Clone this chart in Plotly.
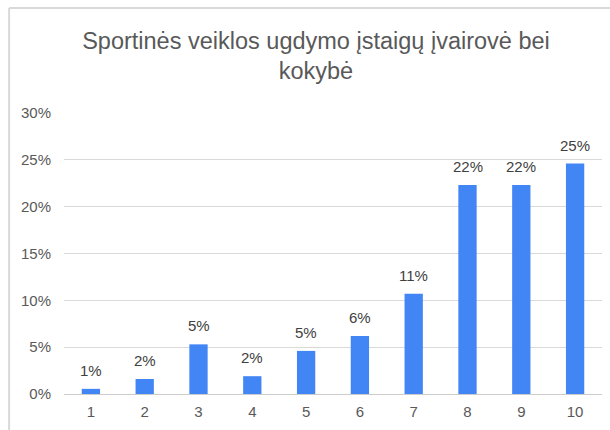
import plotly.graph_objects as go

categories = ["1", "2", "3", "4", "5", "6", "7", "8", "9", "10"]
values = [0.0055, 0.016, 0.053, 0.019, 0.046, 0.062, 0.107, 0.223, 0.223, 0.246]
y_ticks = [0, 0.05, 0.10, 0.15, 0.20, 0.25, 0.30]
y_tick_labels = ["0%", "5%", "10%", "15%", "20%", "25%", "30%"]
title_text = "Sportinės veiklos ugdymo įstaigų įvairovė bei<br>kokybė"

FONT = "Liberation Sans, Arial, sans-serif"
BLUE = "#4285F4"
GREY_TEXT = "#595959"
GRID = "#d9d9d9"

fig = go.Figure()
fig.add_trace(go.Bar(
    x=categories, y=values, marker=dict(color=BLUE, line=dict(width=0)),
    hoverinfo="skip",
))

annotations = []
for i, v in enumerate(values):
    annotations.append(dict(
        x=i, y=v, xref="x", yref="y", text=f"{round(v*100+1e-9):d}%",
        showarrow=False, yanchor="bottom", yshift=8,
        font=dict(family=FONT, size=15, color="#404040"),
    ))

fig.update_layout(
    width=610, height=430,
    margin=dict(l=64, r=8, t=113, b=36),
    paper_bgcolor="white", plot_bgcolor="white",
    bargap=0.66,
    showlegend=False,
    title=dict(text=title_text, x=0.518, xanchor="center", y=0.887, yanchor="top",
               font=dict(family=FONT, size=23.5, color=GREY_TEXT)),
    xaxis=dict(type="category", showgrid=False, showline=True, linecolor="#cccccc",
               linewidth=1, ticks="", ticklabelstandoff=4,
               tickfont=dict(family=FONT, size=15, color=GREY_TEXT)),
    yaxis=dict(range=[0, 0.30], tickvals=y_ticks, ticktext=y_tick_labels,
               showgrid=True, gridcolor=GRID, gridwidth=1, zeroline=False, showline=False,
               ticks="", ticklabelstandoff=12,
               tickfont=dict(family=FONT, size=15, color=GREY_TEXT)),
    annotations=annotations,
    shapes=[
        dict(type="line", xref="paper", yref="paper", x0=-0.102, x1=1.05, y0=1.3737, y1=1.3737,
             line=dict(color="#d9d9d9", width=2)),
        dict(type="line", xref="paper", yref="paper", x0=-0.102, x1=-0.102, y0=1.3737, y1=-0.2,
             line=dict(color="#d9d9d9", width=2)),
    ],
)

fig.write_html("out.html", config={"displayModeBar": False},
               post_script="document.body.style.margin='0';document.body.style.overflow='hidden';")
